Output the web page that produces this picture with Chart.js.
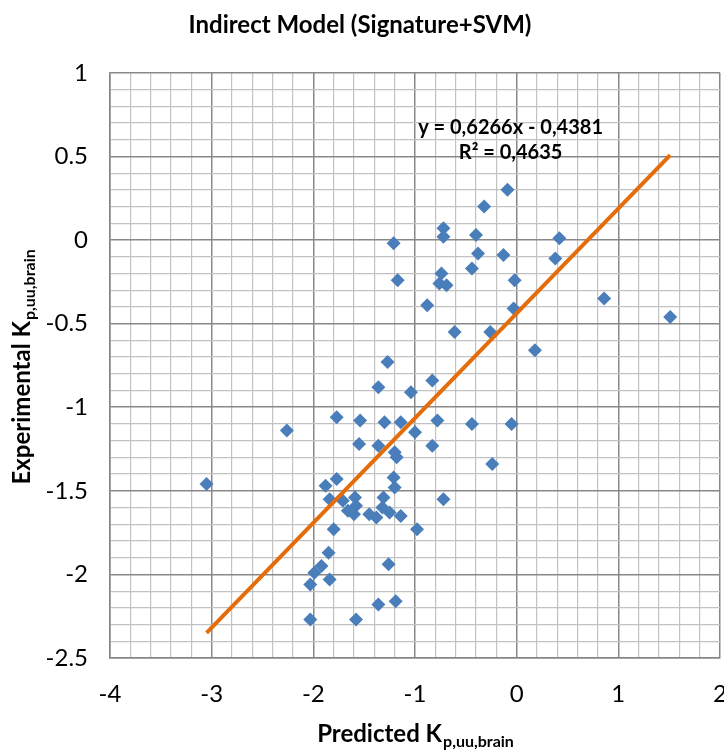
<!DOCTYPE html>
<html>
<head>
<meta charset="utf-8">
<script src="https://cdn.jsdelivr.net/npm/chart.js@4"></script>
<style>
  html, body { margin: 0; padding: 0; background: #fff; overflow: hidden; }
</style>
</head>
<body>
<canvas id="kpuu" width="724" height="753"></canvas>
<script>
// predicted vs experimental Kp,uu,brain
var predicted = [
  -3.05, -2.26, -2.03, -2.03, -1.99, -1.92, -1.88, -1.85, -1.84, -1.84,
  -1.80, -1.77, -1.77, -1.71, -1.66, -1.59, -1.60, -1.58, -1.58, -1.55,
  -1.54, -1.45, -1.38, -1.36, -1.36, -1.36, -1.31, -1.32, -1.30, -1.27,
  -1.26, -1.25, -1.21, -1.20, -1.20, -1.18, -1.19, -1.21, -1.17, -1.14,
  -1.14, -1.04, -1.00, -0.98, -0.88, -0.83, -0.83, -0.78, -0.76, -0.74,
  -0.72, -0.72, -0.72, -0.69, -0.61, -0.44, -0.44, -0.40, -0.38, -0.32,
  -0.26, -0.24, -0.13, -0.09, -0.05, -0.03, -0.02, 0.18, 0.38, 0.42,
  0.86, 1.51
];
var experimental = [
  -1.46, -1.14, -2.27, -2.06, -1.99, -1.95, -1.47, -1.87, -2.03, -1.55,
  -1.73, -1.43, -1.06, -1.56, -1.62, -1.54, -1.64, -1.59, -2.27, -1.22,
  -1.08, -1.64, -1.66, -2.18, -1.23, -0.88, -1.54, -1.60, -1.09, -0.73,
  -1.94, -1.63, -1.42, -1.48, -1.27, -1.30, -2.16, -0.02, -0.24, -1.65,
  -1.09, -0.91, -1.15, -1.73, -0.39, -0.84, -1.23, -1.08, -0.26, -0.20,
  0.07, 0.02, -1.55, -0.27, -0.55, -1.10, -0.17, 0.03, -0.08, 0.20,
  -0.55, -1.34, -0.09, 0.30, -1.10, -0.41, -0.24, -0.66, -0.11, 0.01,
  -0.35, -0.46
];

// linear trendline printed on the chart
var slope = 0.6266;
var intercept = -0.4381;
var eqText = ["y = 0,6266x - 0,4381", "R² = 0,4635"];

var xTicks = [-4, -3, -2, -1, 0, 1, 2];
var yTicks = [-2.5, -2, -1.5, -1, -0.5, 0, 0.5, 1];

var pts = predicted.map(function (p, i) { return { x: p, y: experimental[i] }; });
var xMin = Math.min.apply(null, predicted);
var xMax = Math.max.apply(null, predicted);
var trend = [
  { x: xMin, y: slope * xMin + intercept },
  { x: xMax, y: slope * xMax + intercept }
];

function isMajor(v, list) {
  return list.some(function (t) { return Math.abs(t - v) < 1e-6; });
}

var FONT = "Lato, 'Open Sans', sans-serif";

function drawSubText(ctx, main, sub, cx, cy) {
  ctx.font = "bold 24px " + FONT;
  var w1 = ctx.measureText(main).width;
  ctx.font = "bold 16px " + FONT;
  var w2 = ctx.measureText(sub).width;
  var x0 = cx - (w1 + w2) / 2;
  ctx.textAlign = "left";
  ctx.textBaseline = "middle";
  ctx.font = "bold 24px " + FONT;
  ctx.fillText(main, x0, cy);
  ctx.font = "bold 16px " + FONT;
  ctx.fillText(sub, x0 + w1 + 1, cy + 8);
}

var labelsPlugin = {
  id: "labels",
  afterDraw: function (chart) {
    var ctx = chart.ctx;
    var a = chart.chartArea;
    var xs = chart.scales.x, ys = chart.scales.y;
    ctx.save();
    ctx.fillStyle = "#000";
    // x title
    drawSubText(ctx, "Predicted K", "p,uu,brain", (a.left + a.right) / 2, 734);
    // y title
    ctx.save();
    ctx.translate(22, (a.top + a.bottom) / 2 + 2);
    ctx.rotate(-Math.PI / 2);
    drawSubText(ctx, "Experimental K", "p,uu,brain", 0, 0);
    ctx.restore();
    // equation
    ctx.font = "bold 20px " + FONT;
    ctx.textAlign = "center";
    ctx.textBaseline = "middle";
    ctx.fillText(eqText[0], xs.getPixelForValue(-0.06), ys.getPixelForValue(0.675));
    ctx.fillText(eqText[1], xs.getPixelForValue(-0.06), ys.getPixelForValue(0.525));
    ctx.restore();
  }
};

new Chart("kpuu", {
  type: "scatter",
  data: {
    datasets: [{
      type: "line",
      data: trend,
      borderColor: "#e46c0a",
      borderWidth: 4,
      pointRadius: 0,
      fill: false,
      order: 0
    }, {
      data: pts,
      pointStyle: "rectRot",
      pointRadius: 7,
      backgroundColor: "#4a7ebb",
      borderColor: "#4a7ebb",
      borderWidth: 0,
      order: 1
    }]
  },
  options: {
    responsive: false,
    animation: false,
    layout: { autoPadding: false, padding: { top: 0, right: 4, left: 0, bottom: 0 } },
    plugins: {
      legend: { display: false },
      tooltip: { enabled: false },
      title: {
        display: true,
        text: "Indirect Model (Signature+SVM)",
        color: "#000",
        font: { family: FONT, size: 24, weight: "bold" },
        padding: { top: 11, bottom: 33 }
      }
    },
    scales: {
      x: {
        type: "linear",
        min: -4,
        max: 2,
        afterFit: function (s) { s.height = 95; s.paddingLeft = 0; s.paddingRight = 0; },
        border: { display: true, color: "#868686", width: 1.5 },
        grid: {
          drawTicks: false,
          color: function (c) { return isMajor(c.tick.value, xTicks) ? "#888888" : "#c2c2c2"; },
          lineWidth: function (c) { return isMajor(c.tick.value, xTicks) ? 1.5 : 1.2; }
        },
        ticks: {
          stepSize: 0.2,
          autoSkip: false,
          maxRotation: 0,
          padding: 22,
          color: "#000",
          font: { family: FONT, size: 24 },
          callback: function (v) { return isMajor(v, xTicks) ? String(Math.round(v)) : ""; }
        }
      },
      y: {
        type: "linear",
        min: -2.5,
        max: 1,
        afterFit: function (s) { s.width = 110; s.paddingTop = 0; s.paddingBottom = 0; },
        border: { display: true, color: "#868686", width: 1.5 },
        grid: {
          drawTicks: false,
          color: function (c) { return isMajor(c.tick.value, yTicks) ? "#888888" : "#c2c2c2"; },
          lineWidth: function (c) { return isMajor(c.tick.value, yTicks) ? 1.5 : 1.2; }
        },
        ticks: {
          stepSize: 0.1,
          autoSkip: false,
          padding: 22,
          color: "#000",
          font: { family: FONT, size: 24 },
          callback: function (v) { return isMajor(v, yTicks) ? String(Math.round(v * 10) / 10) : ""; }
        }
      }
    }
  },
  plugins: [labelsPlugin]
});
</script>
</body>
</html>
